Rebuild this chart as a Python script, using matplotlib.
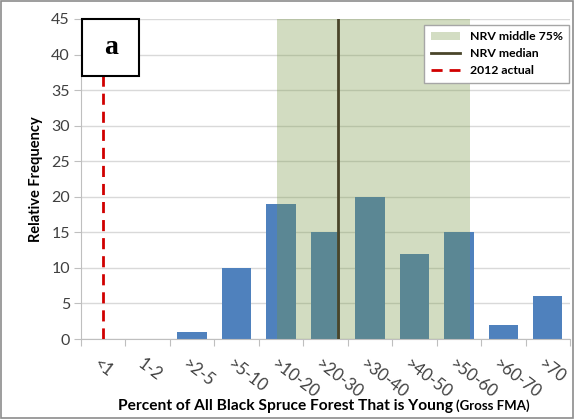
import numpy as np
import matplotlib.pyplot as plt
from matplotlib.patches import Patch, Rectangle
from matplotlib.lines import Line2D

categories = ['<1', '1-2', '>2-5', '>5-10', '>10-20', '>20-30', '>30-40',
              '>40-50', '>50-60', '>60-70', '>70']
freq = [0, 0, 1, 10, 19, 15, 20, 12, 15, 2, 6]
nrv_low, nrv_high = 3.9, 8.24   # middle 75% band (category units)
nrv_median = 5.28
actual_2012 = 0.0

plt.rcParams['font.family'] = ['Lato', 'DejaVu Sans']

fig = plt.figure(figsize=(5.74, 4.19), dpi=100)
fig.patches.append(Rectangle((0.002, 0.002), 0.996, 0.996, transform=fig.transFigure,
                             fill=False, edgecolor='#8c8c8c', linewidth=1.2))
ax = fig.add_axes([81 / 574, 1 - 339 / 419, (570 - 81) / 574, (339 - 19) / 419])

x = np.arange(len(categories))
ax.bar(x, freq, width=0.66, color='#4F81BD', zorder=2)
ax.axvspan(nrv_low, nrv_high, color='#75953F', alpha=0.32, lw=0, zorder=3)
ax.axvline(nrv_median, color='#4A452A', lw=2, zorder=4)
ax.axvline(actual_2012, ymax=37 / 45, color='#D00000', lw=2, ls=(0, (4, 2.5)), zorder=4)

ax.set_xlim(-0.5, len(categories) - 0.5)
ax.set_ylim(0, 45)
ax.set_yticks(range(0, 46, 5))
ax.yaxis.grid(True, color='#d9d9d9', lw=1, zorder=0)
ax.set_axisbelow(True)
for s in ['top', 'right']:
    ax.spines[s].set_visible(False)
ax.spines['left'].set_color('#bfbfbf')
ax.spines['bottom'].set_color('#bfbfbf')
ax.tick_params(axis='y', length=5, color='#bfbfbf', labelsize=11.5, labelcolor='#404040', pad=3)
ax.set_xticks(np.arange(-0.5, len(categories), 1))
ax.set_xticklabels([])
ax.tick_params(axis='x', length=5, color='#bfbfbf')
for i, c in enumerate(categories):
    ax.text(i - 0.07, -2.4, c, rotation=-37, ha='left', va='top', fontsize=12,
            color='#404040', rotation_mode='anchor')

ax.set_ylabel('Relative Frequency', fontsize=10.5, fontweight='bold', labelpad=6)
fig.text(118 / 574, 1 - 410 / 419,
         'Percent of All Black Spruce Forest That is Young', fontsize=11.2,
         fontweight='bold', ha='left', va='baseline')
fig.text(456 / 574, 1 - 410 / 419, '(Gross FMA)', fontsize=9.5,
         fontweight='bold', ha='left', va='baseline')

# panel label box
ax.add_patch(Rectangle((-0.47, 37), 1.28, 8, fill=True, facecolor='white',
                       edgecolor='black', lw=1.5, zorder=5, clip_on=False))
ax.text(0.17, 41, 'a', ha='center', va='center', fontsize=20, fontweight='bold',
        family='Liberation Serif', zorder=6)

handles = [Patch(facecolor='#D3DDC3', edgecolor='none'),
           Line2D([0], [0], color='#4A452A', lw=2),
           Line2D([0], [0], color='#D00000', lw=2, ls=(0, (4, 2.5)))]
leg = ax.legend(handles, ['NRV middle 75%', 'NRV median', '2012 actual'],
                loc='upper right', bbox_to_anchor=(1.01, 1.0),
                prop={'weight': 'bold', 'size': 8.8}, fancybox=False,
                edgecolor='#a6a6a6', framealpha=1, handlelength=2.4,
                borderpad=0.5, labelspacing=0.5)
leg.set_zorder(7)

fig.savefig('out.png', dpi=100)
